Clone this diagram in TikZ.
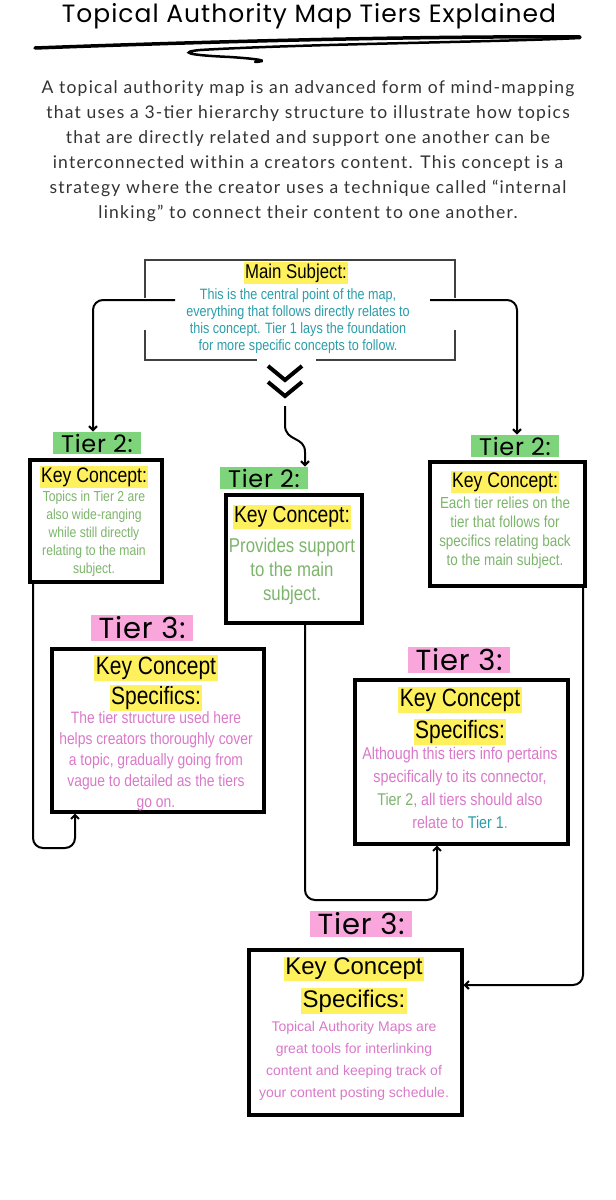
\documentclass[tikz,border=0pt]{standalone}
\usepackage{fontspec}
\setmainfont{Liberation Sans}
\newfontfamily\cond{Liberation Sans}[FakeStretch=0.84]
\newfontfamily\pop{Poppins}[LetterSpace=3]
\newfontfamily\ttl{Poppins}[LetterSpace=4]
\newfontfamily\para{Lato}[LetterSpace=7]
\usetikzlibrary{arrows.meta}
\definecolor{hy}{HTML}{FFF15E}
\definecolor{hg}{HTML}{7ED47A}
\definecolor{hp}{HTML}{F8A6DC}
\definecolor{tteal}{HTML}{2A9DAA}
\definecolor{tgreen}{HTML}{7DB46C}
\definecolor{tpink}{HTML}{DA78C9}
\begin{document}
\begin{tikzpicture}[x=1pt,y=-1pt,
  box/.style={draw=black,line width=3.5pt,anchor=north west,inner sep=0pt},
  hl/.style={fill=hy,inner sep=1.5pt,font=\cond\fontsize{#1}{#1}\selectfont,text=black},
  tier/.style={inner ysep=2pt,inner xsep=8pt,font=\pop\fontsize{#1}{#1}\selectfont,text=black},
  body/.style={align=center,inner sep=0pt,anchor=north},
  con/.style={line width=2pt,rounded corners=10pt},
  arr/.style={con,-{Straight Barb[length=4pt,width=8pt]}}]
\useasboundingbox (0,0) rectangle (616,1200);
% title
\node[font=\ttl\fontsize{25}{25}\selectfont,inner sep=0pt] (title) at (309,16) {Topical Authority Map Tiers Explained};
\draw[line width=3.5pt,line cap=round] (35,48) .. controls (250,40) and (450,36) .. (580,37);
\draw[line width=2.5pt,line cap=round] (580,38) .. controls (500,42) and (300,44) .. (200,50)
  .. controls (180,52) and (185,55) .. (230,57) .. controls (260,59) and (270,61) .. (255,62);
% intro
\node[font=\para\fontsize{17.5}{25}\selectfont,align=center,text=black!80,inner sep=0pt,anchor=north] (intro) at (308,80)
 {A topical authority map is an advanced form of mind-mapping\\that uses a 3-tier hierarchy structure to illustrate how topics\\that are directly related and support one another can be\\interconnected within a creators content. This concept is a\\strategy where the creator uses a technique called “internal\\linking” to connect their content to one another.};
% main box
\draw[line width=1.8pt,draw=black!75] (145,298)--(145,260)--(455,260)--(455,298);
\draw[line width=1.8pt,draw=black!75] (145,330)--(145,360)--(257,360);
\draw[line width=1.8pt,draw=black!75] (316,360)--(455,360)--(455,330);
\node[hl=20] (mainh) at (296,273) {Main Subject:};
\node[body,text=tteal,font=\cond\fontsize{15}{17}\selectfont] (maint) at (298,288)
 {This is the central point of the map,\\everything that follows directly relates to\\this concept. Tier 1 lays the foundation\\for more specific concepts to follow.};
\draw[line width=4pt] (268,366)--(285,380)--(302,366) (268,382)--(285,396)--(302,382);
\coordinate (chev) at (285,406);
% tier 2 labels & boxes
\node[tier=24,fill=hg] (t2l) at (97,443) {Tier 2:};
\node[tier=24,fill=hg] (t2m) at (264,478) {Tier 2:};
\node[tier=24,fill=hg] (t2r) at (515,446) {Tier 2:};
\node[box,minimum width=132pt,minimum height=122pt] (bl) at (28,458) {};
\node[box,minimum width=136pt,minimum height=128pt] (bm) at (224,493) {};
\node[box,minimum width=155pt,minimum height=124pt] (br) at (428,460) {};
\node[hl=21] (blh) at (94,477) {Key Concept:};
\node[body,text=tgreen,font=\cond\fontsize{14.5}{18}\selectfont] (blt) at (94,491)
 {Topics in Tier 2 are\\also wide-ranging\\while still directly\\relating to the main\\subject.};
\node[hl=23] (bmh) at (292,517) {Key Concept:};
\node[body,text=tgreen,font=\cond\fontsize{20}{24}\selectfont] (bmt) at (292,538)
 {Provides support\\to the main\\subject.};
\node[hl=21] (brh) at (505,482) {Key Concept:};
\node[body,text=tgreen,font=\cond\fontsize{16}{19}\selectfont] (brt) at (505,497)
 {Each tier relies on the\\tier that follows for\\specifics relating back\\to the main subject.};
% tier 3
\node[tier=29,fill=hp] (t3l) at (142,628) {Tier 3:};
\node[tier=29,fill=hp] (t3r) at (459,660) {Tier 3:};
\node[tier=29,fill=hp] (t3b) at (361,924) {Tier 3:};
\node[box,minimum width=212pt,minimum height=163pt] (cl) at (50,647) {};
\node[box,minimum width=213pt,minimum height=164pt] (cr) at (353,678) {};
\node[box,minimum width=213pt,minimum height=165pt] (cb) at (247,948) {};
\node[hl=25] (clh1) at (156,668) {Key Concept};
\node[hl=25] (clh2) at (156,698) {Specifics:};
\node[body,text=tpink,font=\cond\fontsize{16.5}{21}\selectfont] (clt) at (156,711)
 {The tier structure used here\\helps creators thoroughly cover\\a topic, gradually going from\\vague to detailed as the tiers\\go on.};
\node[hl=25] (crh1) at (460,700) {Key Concept};
\node[hl=25] (crh2) at (460,732) {Specifics:};
\node[body,text=tpink,font=\cond\fontsize{17}{23}\selectfont] (crt) at (460,747)
 {Although this tiers info pertains\\specifically to its connector,\\\textcolor{tgreen}{Tier 2}, all tiers should also\\relate to \textcolor{tteal}{Tier 1}.};
\node[hl=24,font=\fontsize{24}{24}\selectfont] (cbh1) at (354,969) {Key Concept};
\node[hl=24,font=\fontsize{24}{24}\selectfont] (cbh2) at (354,1001) {Specifics:};
\node[body,text=tpink,font=\fontsize{14}{22}\selectfont] (cbt) at (354,1021)
 {Topical Authority Maps are\\great tools for interlinking\\content and keeping track of\\your content posting schedule.};
% connectors
\coordinate (ml) at (175,300); \coordinate (mr) at (430,300);
\draw[arr] (ml) -- (93,300) -- (t2l.north -| 93,0);
\draw[arr] (mr) -- (517,300) -- (t2r.north -| 517,0);
\draw[arr,rounded corners=0pt] (chev) -- (285,425) .. controls (285,442) and (305,436) .. (305,452) -- (t2m.north -| 305,0);
\coordinate (blb) at (33,580);
\draw[arr] (blb) -- (33,848) -- (75,848) -- (cl.south -| 75,0);
\coordinate (bmb) at (305,621);
\draw[arr] (bmb) -- (305,900) -- (437,900) -- (cr.south -| 437,0);
\coordinate (brb) at (583,584);
\draw[arr] (brb) -- (583,985) -- (cb.east |- 0,985);
\end{tikzpicture}
\end{document}
